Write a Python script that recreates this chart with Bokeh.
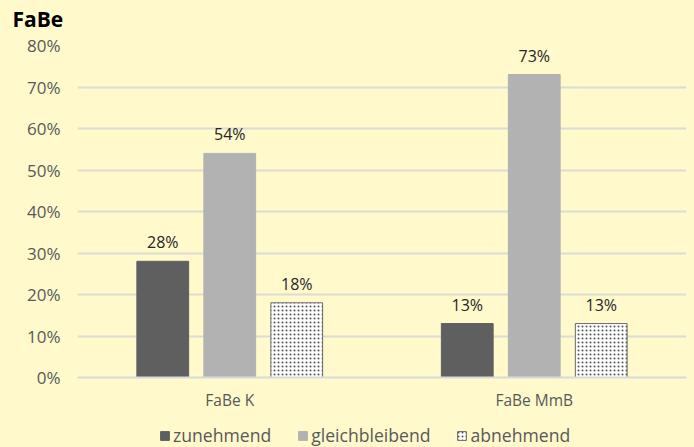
from bokeh.plotting import figure
from bokeh.layouts import column
from bokeh.models import ColumnDataSource, FactorRange, Range1d, Legend, LegendItem, FixedTicker, PrintfTickFormatter, Title
from bokeh.transform import dodge
from bokeh.embed import file_html
from bokeh.resources import INLINE
from bokeh.core.properties import value

categories = ["FaBe K", "FaBe MmB"]
series = ["zunehmend", "gleichbleibend", "abnehmend"]
zunehmend = [28, 13]
gleichbleibend = [54, 73]
abnehmend = [18, 13]
y_ticks = [0, 10, 20, 30, 40, 50, 60, 70, 80]

BG = "#FFF9CC"
FONT = "Open Sans"

STYLES = [
    dict(fill_color="#5F5F5F", line_color="#5F5F5F"),
    dict(fill_color="#B2B2B2", line_color="#B2B2B2"),
    dict(fill_color="#FFFFFF", line_color="#6A6A6A", line_width=1,
         hatch_pattern="dot", hatch_color="#505050", hatch_scale=4, hatch_weight=1),
]

src = ColumnDataSource(dict(
    cat=categories,
    z=zunehmend, g=gleichbleibend, a=abnehmend,
    zl=[f"{v}%" for v in zunehmend],
    gl=[f"{v}%" for v in gleichbleibend],
    al=[f"{v}%" for v in abnehmend],
))

p = figure(width=694, height=417, x_range=FactorRange(*categories), y_range=Range1d(0, 80),
           output_backend="svg", toolbar_location=None,
           min_border_left=77, min_border_right=8, min_border_top=45, min_border_bottom=40)
p.background_fill_color = BG
p.border_fill_color = BG
p.outline_line_color = None

p.title.text = "FaBe"
p.title.text_font = FONT
p.title.text_font_size = "21px"
p.title.text_font_style = "bold"
p.title.text_color = "#000000"
p.title.align = "left"
p.title.offset = -65
p.title.standoff = 0
# small empty spacer between title and plot area
p.add_layout(Title(text=" ", text_font_size="10px", standoff=0), "above")

off = 0.22
w = 0.17
cols = ["z", "g", "a"]
labs = ["zl", "gl", "al"]
dxs = [-off, 0, off]
for col, lab, dx, st in zip(cols, labs, dxs, STYLES):
    p.vbar(x=dodge("cat", dx, range=p.x_range), top=col, width=w, source=src, **st)
    p.text(x=dodge("cat", dx, range=p.x_range), y=col, text=lab, source=src,
           text_align="center", text_baseline="bottom", y_offset=-8,
           text_font=value(FONT), text_font_size="16px", text_color="#262626")

p.yaxis.ticker = FixedTicker(ticks=y_ticks)
p.yaxis.formatter = PrintfTickFormatter(format="%d%%")
p.yaxis.axis_line_color = None
p.yaxis.major_tick_line_color = None
p.yaxis.minor_tick_line_color = None
p.yaxis.major_tick_out = 0
p.yaxis.major_tick_in = 0
p.yaxis.major_label_standoff = 17
p.yaxis.major_label_text_font = FONT
p.yaxis.major_label_text_font_size = "17px"
p.yaxis.major_label_text_color = "#595959"

p.xaxis.axis_line_color = "#D9D9D9"
p.xaxis.axis_line_width = 2
p.xaxis.major_tick_line_color = None
p.xaxis.minor_tick_line_color = None
p.xaxis.major_tick_out = 0
p.xaxis.major_tick_in = 0
p.xaxis.major_label_standoff = 11
p.xaxis.major_label_text_font = FONT
p.xaxis.major_label_text_font_size = "15.5px"
p.xaxis.major_label_text_color = "#595959"

p.xgrid.grid_line_color = None
p.ygrid.grid_line_color = "#DCDCD2"
p.ygrid.grid_line_width = 2

# legend strip below the chart (same bars, drawn outside its visible y-range)
q = figure(width=694, height=30, x_range=p.x_range, y_range=Range1d(1000, 1001),
           output_backend="svg", toolbar_location=None,
           x_axis_location=None, y_axis_location=None,
           min_border_left=0, min_border_right=0, min_border_top=0, min_border_bottom=0)
q.background_fill_color = BG
q.border_fill_color = BG
q.outline_line_color = None
q.xgrid.visible = False
q.ygrid.visible = False
items = []
for name, col, dx, st in zip(series, cols, dxs, STYLES):
    r = q.vbar(x=dodge("cat", dx, range=q.x_range), top=col, width=w, source=src, **st)
    items.append(LegendItem(label=name, renderers=[r]))

legend = Legend(items=items, orientation="horizontal", location=(82, 0))
legend.background_fill_alpha = 0
legend.border_line_color = None
legend.padding = 0
legend.margin = 0
legend.spacing = 26
legend.glyph_width = 11
legend.glyph_height = 11
legend.label_height = 24
legend.label_standoff = 3
legend.label_text_font = FONT
legend.label_text_font_size = "17.6px"
legend.label_text_color = "#595959"
q.add_layout(legend, "center")

layout = column(p, q, spacing=0)
html = file_html(layout, INLINE)
html = html.replace("<head>", "<head><style>html,body{background:%s;}</style>" % BG, 1)
open("out.html", "w").write(html)
